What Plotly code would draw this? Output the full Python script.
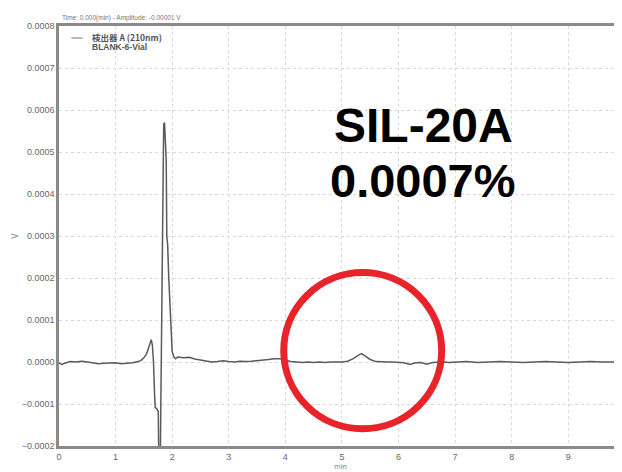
import plotly.graph_objects as go

# ---- data ----
time_min = [0.00, 0.05, 0.10, 0.20, 0.30, 0.40, 0.50, 0.60, 0.70, 0.80, 0.90, 1.00, 1.10, 1.20, 1.30,
            1.40, 1.45, 1.50, 1.55, 1.58, 1.61, 1.63, 1.65, 1.67, 1.69, 1.70, 1.73, 1.755, 1.765, 1.79,
            1.80, 1.82, 1.835, 1.85, 1.865, 1.88, 1.895, 1.905, 1.92, 1.94, 1.96, 1.98, 2.00, 2.03, 2.06,
            2.10, 2.20, 2.30, 2.40, 2.50, 2.60, 2.70, 2.80, 2.90, 3.00, 3.10, 3.20, 3.30, 3.40, 3.50,
            3.60, 3.70, 3.80, 3.90, 4.00, 4.10, 4.20, 4.30, 4.40, 4.50, 4.60, 4.70, 4.80, 4.90, 5.00,
            5.10, 5.20, 5.30, 5.35, 5.40, 5.50, 5.60, 5.70, 5.80, 5.90, 6.00, 6.10, 6.20, 6.30, 6.40,
            6.50, 6.60, 6.70, 6.80, 6.90, 7.00, 7.20, 7.40, 7.60, 7.80, 8.00, 8.20, 8.40, 8.60, 8.80,
            9.00, 9.20, 9.40, 9.60, 9.80, 9.95]
signal_v = [-0.000002, -0.000006, -0.000003, 0.000001, 0.000000, 0.000002, 0.000000, -0.000002,
            -0.000004, -0.000003, -0.000003, -0.000002, -0.000004, -0.000003, -0.000002,
            0.000001, 0.000004, 0.000010, 0.000020, 0.000032, 0.000048, 0.000053, 0.000040,
            0.000000, -0.000080, -0.000108, -0.000112, -0.000118, -0.000250, -0.000250,
            -0.000100, 0.000200, 0.000480, 0.000565, 0.000570, 0.000520, 0.000480, 0.000300,
            0.000280, 0.000200, 0.000126, 0.000060, 0.000025, 0.000012, 0.000008,
            0.000012, 0.000010, 0.000011, 0.000007, 0.000005, 0.000002, 0.000000, 0.000001,
            0.000003, 0.000001, 0.000000, 0.000002, 0.000001, 0.000002, 0.000003,
            0.000004, 0.000006, 0.000008, 0.000008, 0.000004, 0.000001, 0.000000, -0.000001,
            0.000000, -0.000001, 0.000000, -0.000001, 0.000000, 0.000000, 0.000000,
            0.000002, 0.000008, 0.000017, 0.000020, 0.000015, 0.000006, 0.000001, 0.000000,
            0.000000, 0.000000, -0.000001, -0.000002, -0.000006, -0.000002, -0.000001,
            -0.000005, -0.000001, 0.000000, 0.000000, -0.000001, 0.000000, 0.000001,
            -0.000001, 0.000000, 0.000001, 0.000000, -0.000001, 0.000000, 0.000001, 0.000000,
            -0.000001, 0.000000, 0.000001, 0.000000, 0.000000, 0.000000]

x_ticks = [0, 1, 2, 3, 4, 5, 6, 7, 8, 9, 10]
y_ticks = [-0.0002, -0.0001, 0.0000, 0.0001, 0.0002, 0.0003, 0.0004, 0.0005, 0.0006, 0.0007, 0.0008]
legend_lines = ["検出器 A (210nm)", "BLANK-6-Vial"]
header_text = "Time: 0.000(min) - Amplitude: -0.00001 V"
big_label = ["SIL-20A", "0.0007%"]

fig = go.Figure()
fig.add_trace(go.Scatter(x=time_min, y=signal_v, mode="lines",
                         line=dict(color="#5a5a5a", width=1.5), showlegend=False,
                         hoverinfo="skip"))

tick_font = dict(family="Liberation Sans, Arial", size=9, color="#666666")

# page body has an 8px default margin, so the figure is 8px smaller than the window
fig.update_layout(
    width=614, height=464,
    margin=dict(l=51, r=0, t=18, b=26),
    paper_bgcolor="white", plot_bgcolor="white",
    xaxis=dict(range=[0, 9.95], tickvals=x_ticks, ticktext=[str(v) for v in x_ticks],
               showgrid=True, gridcolor="#d6dada", griddash="dot", gridwidth=1,
               showline=True, linecolor="#8a8a8a", linewidth=2.5, mirror=True,
               ticks="", zeroline=False, tickfont=tick_font, automargin=False,
               title=dict(text="min", font=dict(size=7, color="#777777"), standoff=1)),
    yaxis=dict(range=[-0.0002, 0.0008], tickvals=y_ticks, tickformat=".4f",
               showgrid=True, gridcolor="#d6dada", griddash="dot", gridwidth=1,
               showline=True, linecolor="#8a8a8a", linewidth=2.5,
               ticks="", zeroline=False, tickfont=tick_font, automargin=False,
               title=dict(text="V", font=dict(size=9, color="#777777"), standoff=4)),
)

# header text
fig.add_annotation(text=header_text, xref="paper", yref="paper", x=0.002, y=1.0,
                   xanchor="left", yanchor="bottom", showarrow=False, yshift=2,
                   font=dict(family="Liberation Sans, Arial", size=6.5, color="#777777"))

# legend (inside, top-left)
fig.add_shape(type="line", xref="paper", yref="paper", x0=0.022, x1=0.042,
              y0=(446 - 38) / 420, y1=(446 - 38) / 420, line=dict(color="#888888", width=1.2))
fig.add_annotation(text="<b>" + legend_lines[0] + "</b>", xref="paper", yref="paper",
                   x=0.055, y=(446 - 37) / 420, xanchor="left", yanchor="middle",
                   showarrow=False, font=dict(family="Noto Sans CJK JP, Liberation Sans", size=8.5, color="#555555"))
fig.add_annotation(text="<b>" + legend_lines[1] + "</b>", xref="paper", yref="paper",
                   x=0.055, y=(446 - 47) / 420, xanchor="left", yanchor="middle",
                   showarrow=False, font=dict(family="Liberation Sans, Arial", size=8.5, color="#555555"))

# big label
fig.add_annotation(text="<b>" + big_label[0] + "</b>", xref="paper", yref="paper",
                   x=(423 - 59) / 563, y=(446 - 125) / 420, xanchor="center", yanchor="middle",
                   showarrow=False, font=dict(family="Liberation Sans, Arial", size=48, color="black"))
fig.add_annotation(text="<b>" + big_label[1] + "</b>", xref="paper", yref="paper",
                   x=(423 - 59) / 563, y=(446 - 180) / 420, xanchor="center", yanchor="middle",
                   showarrow=False, font=dict(family="Liberation Sans, Arial", size=47, color="black"))

# red circle highlight
fig.add_shape(type="circle", xref="x", yref="y", x0=3.972, x1=6.763, y0=-0.000159, y1=0.000213,
              line=dict(color="#e8232a", width=7))

fig.write_html("out.html")
